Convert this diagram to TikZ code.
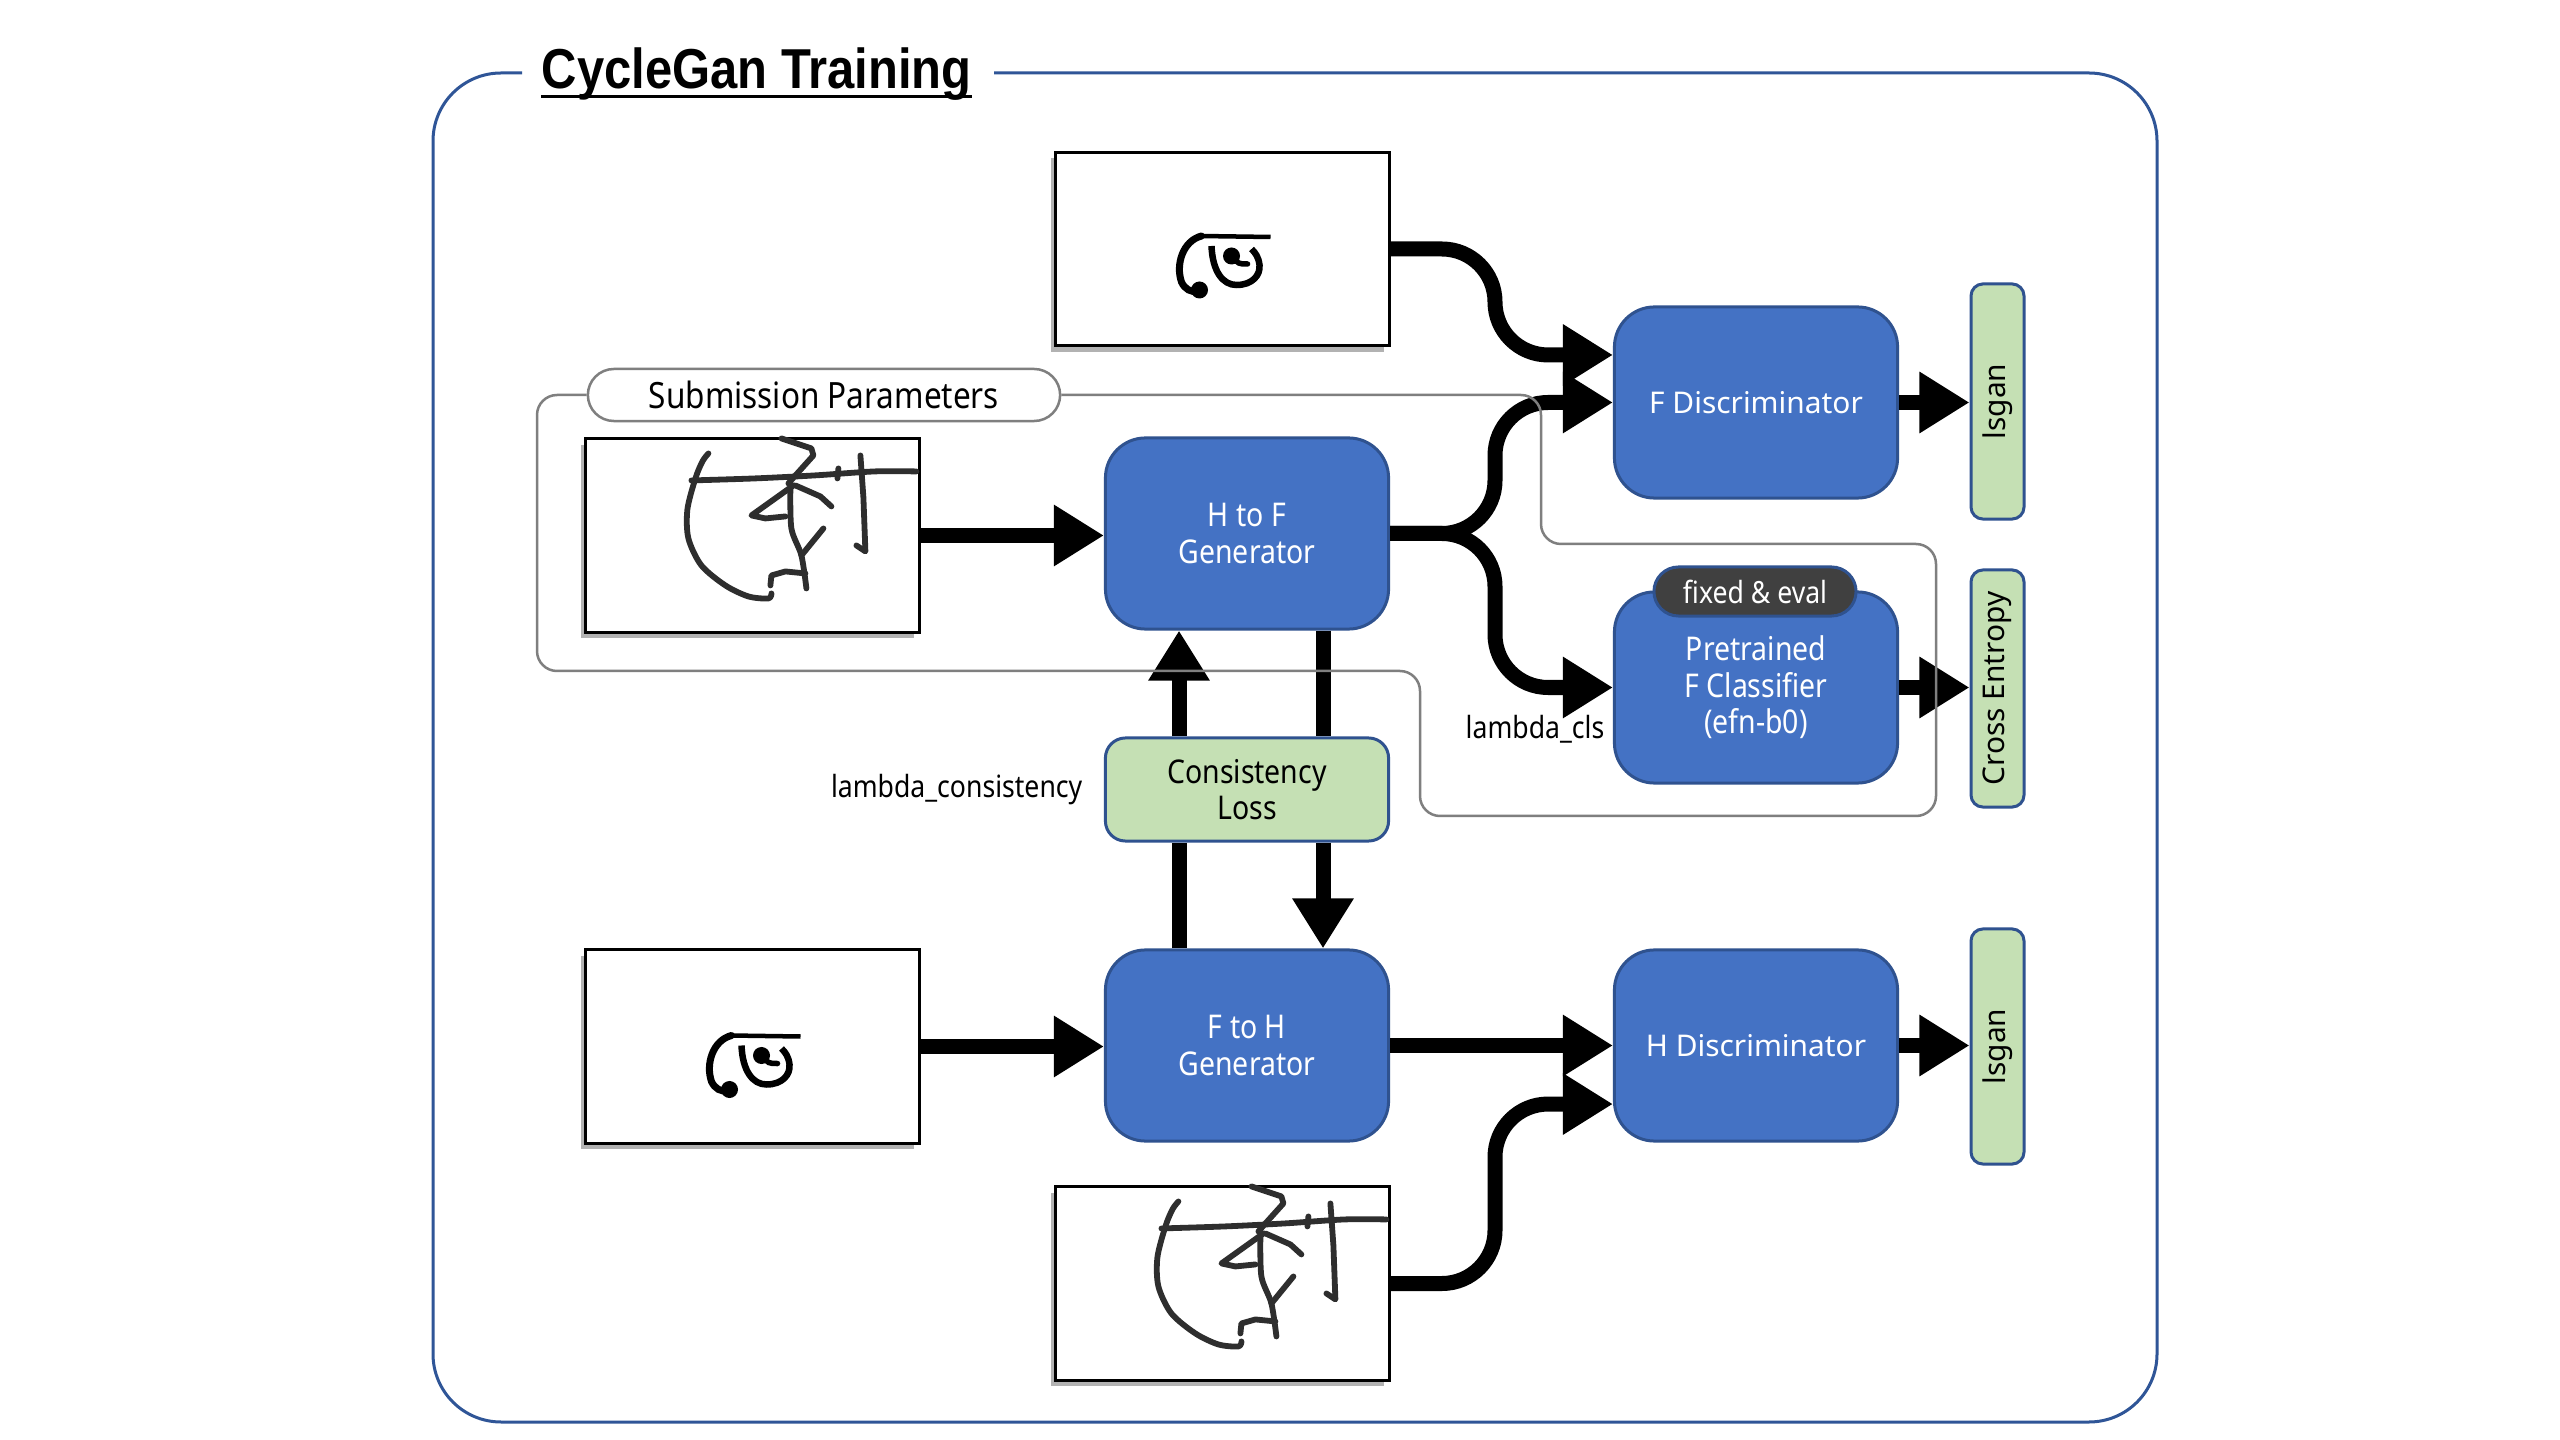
\documentclass[tikz,border=0pt]{standalone}
\usepackage{fontspec}
\setmainfont{Noto Sans}
\newfontfamily\condfont[FakeStretch=0.87]{Noto Sans}
\newfontfamily\titlefont[FakeStretch=0.87]{Liberation Sans}
\usetikzlibrary{arrows.meta,shadows}
\definecolor{boxblue}{HTML}{4472C4}
\definecolor{edgeblue}{HTML}{2F528F}
\definecolor{lossgreen}{HTML}{C5E0B4}
\definecolor{frameblue}{HTML}{2F5597}
\definecolor{pilldark}{HTML}{404040}
\definecolor{outlinegray}{HTML}{7F7F7F}
\definecolor{inkgray}{HTML}{2E2E2E}
\tikzset{
  blockbox/.style={draw=edgeblue, line width=0.03cm, fill=boxblue, rounded corners=0.4cm,
    minimum width=2.83cm, minimum height=1.91cm, text=white, align=center, inner sep=0pt,
    font=\fontsize{8.5}{10.2}\selectfont},
  condblock/.style={blockbox, font=\condfont\fontsize{9.3}{10.4}\selectfont},
  lossbox/.style={draw=edgeblue, line width=0.03cm, fill=lossgreen, rounded corners=0.2cm,
    minimum width=2.83cm, minimum height=1.03cm, align=center, inner sep=0pt,
    font=\condfont\fontsize{9.3}{10.4}\selectfont},
  vlossbox/.style={draw=edgeblue, line width=0.03cm, fill=lossgreen, rounded corners=0.12cm,
    minimum height=0.53cm, inner sep=0pt, rotate=90, font=\fontsize{8.5}{10}\selectfont},
  imgbox/.style={draw=black, line width=0.03cm, fill=white, minimum width=3.33cm,
    minimum height=1.93cm, inner sep=0pt,
    drop shadow={shadow xshift=-0.05cm, shadow yshift=-0.06cm, opacity=0.3, fill=black}},
  flow/.style={draw=black, line width=0.15cm, -{Triangle[length=0.5cm,width=0.58cm]}},
  flowplain/.style={draw=black, line width=0.15cm},
  curvy/.style={rounded corners=0.53cm},
  outline/.style={draw=outlinegray, line width=0.025cm, rounded corners=0.2cm},
  condlabel/.style={inner sep=0pt, font=\condfont\fontsize{8.7}{10}\selectfont},
  hand/.style={draw=inkgray, line width=0.058cm, line cap=round, line join=round},
  handglyph/.pic={
    \draw[hand] plot[smooth] coordinates {(124,16) (118,24) (111,41) (103,72) (104,101) (117,128) (141,148) (164,159) (184,161) (187,156)};
    \draw[hand] plot[smooth] coordinates {(107,43) (170,41) (230,38) (290,34) (332,34)};
    \draw[hand] (197,1) -- (227,11) -- (229,18) -- (211,38) -- (204,46);
    \draw[hand] (209,48) -- (167,78) -- (181,81) -- (201,79);
    \draw[hand] (211,48) -- (236,59) -- (247,69);
    \draw[hand] plot[smooth] coordinates {(206,50) (207,91) (217,118) (222,151)};
    \draw[hand] (239,91) -- (217,118);
    \draw[hand] (186,148) -- (187,138) -- (201,134) -- (221,136);
    \draw[hand] (276,18) -- (279,60) -- (281,114) -- (272,108);
    \draw[hand] (254,31) -- (253,41);
  },
  printglyph/.pic={
    \draw[line width=0.045cm] (-22,-15) -- (48,-14);
    \draw[line width=0.07cm, line cap=round] (-21,-15) .. controls (-40,-10) and (-47,14) .. (-41,31) .. controls (-38,38) and (-31,42) .. (-25,40);
    \fill (-23,39) circle (0.085cm);
    \draw[line width=0.065cm] (-11,-5) .. controls (-10,20) and (0,34) .. (14,34) .. controls (30,34) and (38,24) .. (37,14) .. controls (36,6) and (33,2) .. (29,-2);
    \fill (9,5) circle (0.085cm);
    \draw[line width=0.055cm, line cap=round] (9,5) .. controls (16,13) .. (25,13);
  }
}
\begin{document}
\begin{tikzpicture}[x=0.01cm, y=-0.01cm]
\fill[white] (0,0) rectangle (2560,1440);
\useasboundingbox (0,0) rectangle (2560,1440);

% frame and title
\node[anchor=base west, inner sep=0pt, font=\titlefont\bfseries\fontsize{16}{18}\selectfont] (title) at (541,89) {CycleGan Training};
\draw[line width=0.03cm] ([yshift=-0.075cm]title.base west) -- ([yshift=-0.075cm]title.base east);
\draw[draw=frameblue, line width=0.03cm, rounded corners=0.68cm] (522,73) -- (433,73) -- (433,1422) -- (2157,1422) -- (2157,73) -- (994,73);

% image boxes
\node[imgbox] (imgF1) at (1222.5,249) {};
\node[imgbox] (imgH1) at (752.5,535.5) {};
\node[imgbox] (imgF2) at (752.5,1046.5) {};
\node[imgbox] (imgH2) at (1222.5,1283.5) {};
\pic at ([yshift=-0.02cm]imgF1.center) {printglyph};
\pic at ([yshift=-0.04cm]imgF2.center) {printglyph};
\pic at (imgH1.north west) {handglyph};
\pic at (imgH2.north west) {handglyph};

% blocks
\node[condblock] (H2F) at (1247,533.5) {H to F\\Generator};
\node[condblock] (F2H) at (1247,1045.5) {F to H\\Generator};
\node[blockbox] (FD) at (1756,402.5) {F Discriminator};
\node[condblock] (Cls) at (1756,687.5) {Pretrained\\F Classifier\\(efn-b0)};
\node[blockbox] (HD) at (1756,1045.5) {H Discriminator};
\node[lossbox] (Cons) at (1247,789.5) {Consistency\\Loss};
\node[vlossbox, minimum width=2.35cm] (lsg1) at (1997.5,401.5) {lsgan};
\node[vlossbox, minimum width=2.37cm] (CE) at (1997.5,688.5) {Cross Entropy};
\node[vlossbox, minimum width=2.35cm] (lsg2) at (1997.5,1046.5) {lsgan};
\node[draw=edgeblue, line width=0.03cm, fill=pilldark, rounded corners=0.245cm, minimum width=2.02cm,
  minimum height=0.49cm, inner sep=0pt, text=white, font=\condfont\fontsize{8.7}{10}\selectfont] (fixed) at (1755,591.5) {fixed \& eval};

% labels
\node[condlabel, anchor=east] (lcls) at (1605,729) {lambda\_cls};
\node[condlabel, anchor=east] (lcons) at (1083,790) {lambda\_consistency};

% helper coordinates
\coordinate (j1) at (1495,0);
\coordinate (xL) at (1179,0);
\coordinate (xR) at (1323,0);
\coordinate (FDin1) at ([yshift=0.475cm]FD.west);
\coordinate (HDin2) at ([yshift=-0.585cm]HD.west);

% connectors
\draw[flow] (imgH1.east) -- (imgH1.east -| H2F.west);
\draw[flow, curvy] (imgF1.east) -- (imgF1.east -| j1) -- (FDin1 -| j1) -- (FDin1);
\draw[flow, curvy] (H2F.east) -- (H2F.east -| j1) -- (FD.west -| j1) -- (FD.west);
\draw[flow, curvy] (H2F.east) -- (H2F.east -| j1) -- (Cls.west -| j1) -- (Cls.west);
\draw[flow] (FD.east) -- (FD.east -| lsg1.north);
\draw[flow] (Cls.east) -- (Cls.east -| CE.north);
\draw[flowplain] (H2F.south -| xR) -- (Cons.north -| xR);
\draw[flow] (Cons.south -| xR) -- (F2H.north -| xR);
\draw[flowplain] (F2H.north -| xL) -- (Cons.south -| xL);
\draw[flow] (Cons.north -| xL) -- (H2F.south -| xL);
\draw[flow] (imgF2.east) -- (imgF2.east -| F2H.west);
\draw[flow] (F2H.east) -- (HD.west);
\draw[flow, curvy] (imgH2.east) -- (imgH2.east -| j1) -- (HDin2 -| j1) -- (HDin2);
\draw[flow] (HD.east) -- (HD.east -| lsg2.north);

% submission parameters group
\node[draw=outlinegray, line width=0.025cm, fill=white, rounded corners=0.26cm, minimum width=4.72cm,
  minimum height=0.52cm, inner sep=0pt, font=\condfont\fontsize{10.3}{12}\selectfont] (sub) at (824,395) {Submission Parameters};
\draw[outline] (sub.east) -- (1541,395) -- (1541,544) -- (1936,544) -- (1936,816) -- (1420,816) -- (1420,671) -- (537,671) -- (537,395) -- (sub.west);
\end{tikzpicture}
\end{document}
